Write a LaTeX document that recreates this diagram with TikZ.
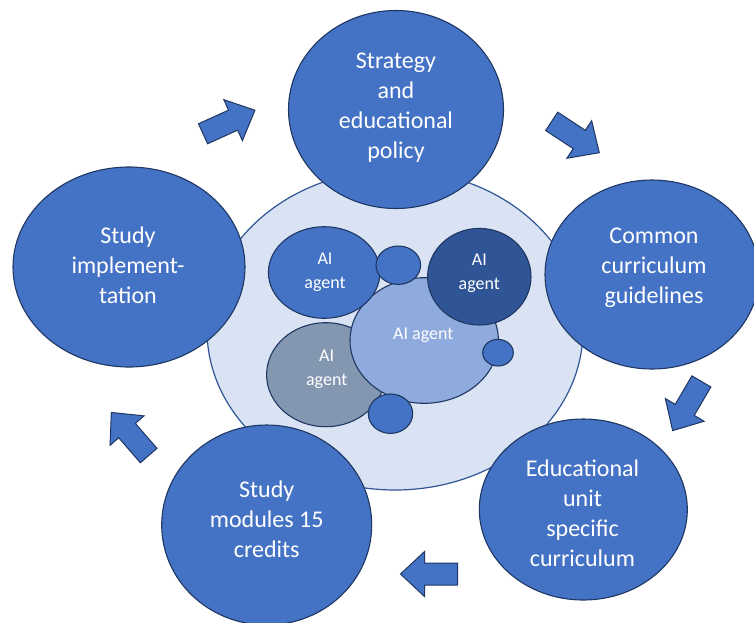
\documentclass[tikz,border=0pt]{standalone}
\usepackage{fontspec}
\setmainfont{Carlito}
\usetikzlibrary{shapes.geometric}

\definecolor{stageblue}{HTML}{4472C4}
\definecolor{edgenavy}{HTML}{1F3763}
\definecolor{hubfill}{HTML}{DAE3F3}
\definecolor{hubedge}{HTML}{2F5597}
\definecolor{agentdark}{HTML}{2F5597}
\definecolor{agentlight}{HTML}{8FAADC}
\definecolor{agentgray}{HTML}{8497B0}

\begin{document}
\begin{tikzpicture}[x=1pt, y=-1pt,
  blob/.style={ellipse, inner sep=0pt, draw=edgenavy, line width=1.1pt},
  stage/.style={blob, fill=stageblue},
  stagetext/.style={text=white, align=center, inner sep=0pt,
    font=\fontsize{24}{30}\selectfont},
  agenttext/.style={text=white, align=center, inner sep=0pt,
    font=\fontsize{18}{24}\selectfont},
  arrowbody/.style={fill=stageblue, draw=edgenavy, line width=1pt, line join=miter},
  pics/blockarrow/.style={code={
    \path[arrowbody] (-28.5,-11) -- (4.5,-11) -- (4.5,-22.5) -- (28.5,0)
      -- (4.5,22.5) -- (4.5,11) -- (-28.5,11) -- cycle;
  }}
]
\useasboundingbox (0,0) rectangle (754,622);

% central hub holding the agents
\node[blob, draw=hubedge, fill=hubfill, line width=1.2pt,
      minimum width=376, minimum height=320] (hub) at (395,330) {};

% stages of the cycle
\node[stage, minimum width=215, minimum height=198] (strategy) at (396,109.5) {};
\node[stagetext] (strategytext) at (396,108) {Strategy\\and\\educational\\policy};

\node[stage, minimum width=214, minimum height=189] (common) at (652,274.5) {};
\node[stagetext] (commontext) at (654,268) {Common\\curriculum\\guidelines};

\node[stage, minimum width=208, minimum height=181] (unit) at (583.3,509.5) {};
\node[stagetext] (unittext) at (582.5,513.5) {Educational\\unit\\specific\\curriculum};

\node[stage, minimum width=210, minimum height=200] (modules) at (266.7,525) {};
\node[stagetext] (modulestext) at (266.7,519) {Study\\modules 15\\credits};

\node[stage, minimum width=232, minimum height=200] (impl) at (129,267) {};
\node[stagetext] (impltext) at (128,265) {Study\\implement-\\tation};

% agents inside the hub
\node[blob, fill=agentgray, minimum width=118.4, minimum height=104] (agentgray) at (325.8,374.7) {};
\node[blob, fill=agentlight, minimum width=148.4, minimum height=125.6] (agentmain) at (424.2,340.5) {};
\node[blob, fill=stageblue, minimum width=111.6, minimum height=91.6] (agentblue) at (324.2,272.5) {};
\node[blob, fill=agentdark, minimum width=103.4, minimum height=96.6] (agentnavy) at (479.3,276.7) {};
\node[blob, fill=stageblue, minimum width=44.6, minimum height=38.4] (dottop) at (398.3,265.2) {};
\node[blob, fill=stageblue, minimum width=30.6, minimum height=26.6] (dotright) at (498,352.7) {};
\node[blob, fill=stageblue, minimum width=44.4, minimum height=39.4] (dotbottom) at (390.5,413.7) {};

\node[agenttext] (agentbluetext) at (325,272) {AI\\agent};
\node[agenttext] (agentnavytext) at (479.3,273.7) {AI\\agent};
\node[agenttext] (agentmaintext) at (423.3,335) {AI agent};
\node[agenttext] (agentgraytext) at (326.7,369.7) {AI\\agent};

% block arrows between the stages
\pic[rotate=24.4] (arrowone) at (229,122) {blockarrow};
\pic[rotate=-33.4] (arrowtwo) at (575.5,137) {blockarrow};
\pic[rotate=-120.3] (arrowthree) at (687,406) {blockarrow};
\pic[rotate=180] (arrowfour) at (429,574) {blockarrow};
\pic[rotate=130.9] (arrowfive) at (130,434) {blockarrow};
\end{tikzpicture}
\end{document}
